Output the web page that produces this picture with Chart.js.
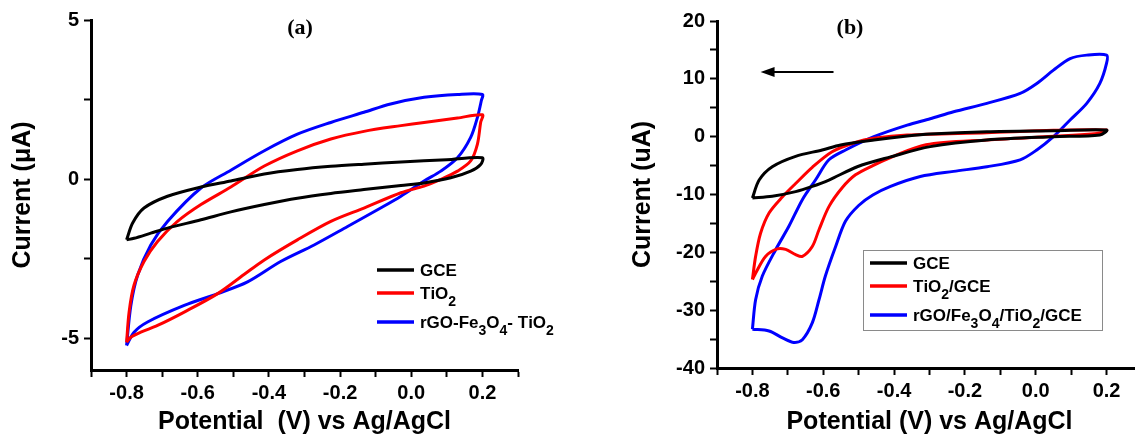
<!DOCTYPE html>
<html>
<head>
<meta charset="utf-8">
<script src="https://cdn.jsdelivr.net/npm/chart.js@4.4.0/dist/chart.umd.min.js"></script>
<style>
  html, body { margin: 0; padding: 0; background: #fff; }
  #wrap { position: relative; width: 1135px; height: 437px; overflow: hidden; }
  canvas { position: absolute; top: 0; }
  #chart-a { left: 0; }
  #chart-b { left: 620px; }
</style>
</head>
<body>
<div id="wrap">
  <canvas id="chart-a" width="560" height="437"></canvas>
  <canvas id="chart-b" width="540" height="437"></canvas>
</div>
<script>
// tick values and labels
const potentialTicks = [-0.9, -0.8, -0.7, -0.6, -0.5, -0.4, -0.3, -0.2, -0.1, 0.0, 0.1, 0.2, 0.3];
const potentialLabels = ['-0.8', '-0.6', '-0.4', '-0.2', '0.0', '0.2'];
const currentTicksA = [-5, -2.5, 0, 2.5, 5];
const currentLabelsA = ['-5', '0', '5'];
const currentTicksB = [-40, -35, -30, -25, -20, -15, -10, -5, 0, 5, 10, 15, 20];
const currentLabelsB = ['-40', '-30', '-20', '-10', '0', '10', '20'];

// panel (a): potential (V) and current (uA), loop starts at -0.8 V
const gceA_V = [-0.8, -0.783, -0.751, -0.685, -0.591, -0.507, -0.413, -0.32, -0.226, -0.133, -0.029, 0.1, 0.2, 0.195, 0.167, 0.111, 0.036, -0.029, -0.133, -0.226, -0.32, -0.413, -0.507, -0.591, -0.685, -0.732, -0.779, -0.8];
const gceA_I = [-1.91, -1.38, -0.91, -0.54, -0.25, -0.06, 0.16, 0.30, 0.40, 0.47, 0.54, 0.61, 0.67, 0.46, 0.25, 0.04, -0.12, -0.20, -0.33, -0.45, -0.60, -0.80, -1.03, -1.28, -1.54, -1.70, -1.86, -1.91];

const tio2A_V = [-0.8, -0.793, -0.779, -0.751, -0.713, -0.657, -0.591, -0.507, -0.413, -0.32, -0.226, -0.133, -0.029, 0.036, 0.13, 0.2, 0.195, 0.186, 0.167, 0.13, 0.083, 0.036, -0.029, -0.133, -0.226, -0.32, -0.413, -0.47, -0.544, -0.638, -0.713, -0.76, -0.788, -0.8];
const tio2A_I = [-5.13, -4.18, -3.33, -2.59, -1.96, -1.33, -0.80, -0.25, 0.41, 0.89, 1.26, 1.50, 1.68, 1.78, 1.92, 2.02, 1.78, 1.10, 0.57, 0.25, -0.01, -0.22, -0.43, -0.91, -1.33, -1.91, -2.54, -3.00, -3.60, -4.18, -4.60, -4.81, -4.97, -5.13];

const compA_V = [-0.8, -0.788, -0.769, -0.732, -0.685, -0.591, -0.507, -0.413, -0.32, -0.226, -0.133, -0.058, 0.036, 0.13, 0.2, 0.197, 0.186, 0.167, 0.13, 0.083, 0.036, -0.029, -0.086, -0.179, -0.273, -0.367, -0.46, -0.544, -0.638, -0.741, -0.779, -0.8];
const compA_I = [-5.23, -3.97, -3.02, -2.07, -1.33, -0.28, 0.28, 0.89, 1.41, 1.78, 2.10, 2.36, 2.57, 2.66, 2.66, 2.47, 1.94, 1.31, 0.67, 0.25, -0.06, -0.54, -0.91, -1.49, -2.07, -2.59, -3.23, -3.60, -3.97, -4.49, -4.81, -5.23];

// panel (b)
const gceB_V = [-0.8, -0.781, -0.744, -0.678, -0.603, -0.551, -0.457, -0.363, -0.298, -0.138, 0.049, 0.2, 0.181, 0.049, -0.138, -0.298, -0.41, -0.504, -0.584, -0.631, -0.678, -0.744, -0.8];
const gceB_I = [-10.6, -7.5, -5.2, -3.4, -2.3, -1.43, -0.57, 0.12, 0.47, 0.86, 1.03, 1.16, 0.29, 0.0, -0.57, -1.72, -3.5, -5.2, -7.5, -8.6, -9.5, -10.3, -10.6];

const tio2B_V = [-0.8, -0.791, -0.777, -0.753, -0.715, -0.678, -0.631, -0.575, -0.51, -0.457, -0.363, -0.138, 0.05, 0.2, 0.181, -0.138, -0.31, -0.41, -0.46, -0.509, -0.546, -0.584, -0.612, -0.631, -0.659, -0.678, -0.706, -0.73, -0.763, -0.791, -0.8];
const tio2B_I = [-24.7, -20.7, -16.7, -13.2, -10.4, -8.1, -5.3, -2.6, -1.0, -0.28, 0.29, 0.69, 1.1, 1.16, 0.59, -0.57, -1.4, -3.6, -5.0, -6.6, -8.8, -12.1, -16.1, -19.0, -20.7, -20.4, -19.5, -19.4, -20.7, -23.6, -24.7];

const compB_V = [-0.8, -0.791, -0.772, -0.734, -0.697, -0.659, -0.622, -0.584, -0.537, -0.457, -0.363, -0.298, -0.232, -0.138, -0.044, 0.003, 0.05, 0.097, 0.144, 0.2, 0.2, 0.181, 0.144, 0.097, 0.05, 0.003, -0.044, -0.138, -0.232, -0.326, -0.41, -0.46, -0.5, -0.537, -0.565, -0.594, -0.612, -0.631, -0.659, -0.683, -0.715, -0.753, -0.8];
const compB_I = [-33.3, -28.2, -24.1, -19.5, -15.5, -10.9, -7.5, -4.0, -2.3, 0.0, 2.0, 3.1, 4.31, 5.76, 7.48, 9.2, 11.5, 13.5, 14.1, 14.1, 12.7, 9.2, 5.76, 2.88, 0.0, -2.3, -4.0, -5.2, -6.0, -6.9, -8.6, -10.1, -11.9, -14.6, -19.0, -24.1, -28.2, -32.2, -35.1, -35.6, -34.8, -33.6, -33.3];

const labelsA = ['GCE', 'TiO₂', 'rGO-Fe₃O₄- TiO₂'];
const labelsB = ['GCE', 'TiO₂/GCE', 'rGO/Fe₃O₄/TiO₂/GCE'];
const colors = ['#000000', '#ff0000', '#0000ff'];

function toPoints(vs, is) {
    return vs.map((v, k) => ({ x: v, y: is[k] }));
}

const SANS = '"Liberation Sans", Arial, sans-serif';
const SUBS = { '₀': '0', '₁': '1', '₂': '2', '₃': '3', '₄': '4', '₅': '5', '₆': '6', '₇': '7', '₈': '8', '₉': '9' };

// draw text where unicode subscript digits become small lowered digits
function drawRich(ctx, str, x, y, size) {
    const base = y + size * 0.36;
    ctx.textBaseline = 'alphabetic';
    ctx.textAlign = 'left';
    for (const ch of str) {
        if (SUBS[ch]) {
            ctx.font = 'bold ' + Math.round(size * 0.82) + 'px ' + SANS;
            ctx.fillText(SUBS[ch], x, base + size * 0.38);
            x += ctx.measureText(SUBS[ch]).width;
        } else {
            ctx.font = 'bold ' + size + 'px ' + SANS;
            ctx.fillText(ch, x, base);
            x += ctx.measureText(ch).width;
        }
    }
}

const decorPlugin = {
    id: 'decor',
    afterDraw(chart, args, opts) {
        const ctx = chart.ctx;
        ctx.save();
        ctx.fillStyle = '#000';
        ctx.font = 'bold 22px "Liberation Serif", "Times New Roman", serif';
        ctx.textAlign = 'center';
        ctx.textBaseline = 'middle';
        ctx.fillText(opts.panel, opts.panelX, opts.panelY);

        if (opts.box) {
            ctx.strokeStyle = '#8a8a8a';
            ctx.lineWidth = 1;
            ctx.strokeRect(opts.box[0] + 0.5, opts.box[1] + 0.5, opts.box[2], opts.box[3]);
        }
        chart.data.datasets.forEach((ds, k) => {
            const y = opts.rows[k];
            ctx.strokeStyle = ds.borderColor;
            ctx.lineWidth = 3.5;
            ctx.beginPath();
            ctx.moveTo(opts.lineX, y);
            ctx.lineTo(opts.lineX + 37, y);
            ctx.stroke();
            ctx.fillStyle = '#000';
            drawRich(ctx, ds.label, opts.lineX + 43, y, 17);
        });

        if (opts.arrow) {
            const xs = chart.scales.x, ys = chart.scales.y;
            const x0 = xs.getPixelForValue(opts.arrow[0]);
            const x1 = xs.getPixelForValue(opts.arrow[1]);
            const ya = ys.getPixelForValue(opts.arrow[2]);
            ctx.strokeStyle = '#000';
            ctx.lineWidth = 2;
            ctx.beginPath();
            ctx.moveTo(x0, ya);
            ctx.lineTo(x1 + 10, ya);
            ctx.stroke();
            ctx.fillStyle = '#000';
            ctx.beginPath();
            ctx.moveTo(x1, ya);
            ctx.lineTo(x1 + 14, ya - 5);
            ctx.lineTo(x1 + 14, ya + 5);
            ctx.closePath();
            ctx.fill();
        }
        ctx.restore();
    }
};

function axisFont(size) {
    return { family: SANS, weight: 'bold', size: size };
}

function makePanel(id, curves, labels, yMin, yMax, yTicks, yLabels, yTitle, xTitle, layout, decor) {
    const datasets = curves.map((c, k) => ({
        label: labels[k],
        data: toPoints(c[0], c[1]),
        showLine: true,
        borderColor: colors[k],
        borderWidth: 3,
        pointRadius: 0,
        tension: 0.3,
        fill: false
    }));
    return new Chart(document.getElementById(id), {
        type: 'scatter',
        data: { datasets: datasets },
        options: {
            responsive: false,
            animation: false,
            layout: { padding: layout.padding },
            plugins: { legend: { display: false }, tooltip: { enabled: false }, decor: decor },
            scales: {
                x: {
                    type: 'linear',
                    min: -0.9,
                    max: 0.3,
                    afterBuildTicks: s => { s.ticks = potentialTicks.map(v => ({ value: v })); },
                    afterFit: s => { s.height = layout.xHeight; },
                    border: { display: true, color: '#000', width: 3 },
                    grid: { drawOnChartArea: false, tickLength: 7, tickWidth: 2, tickColor: '#000' },
                    ticks: {
                        color: '#000', font: axisFont(20), padding: 4, maxRotation: 0, autoSkip: false,
                        callback: v => { const t = (Math.round(v * 10) / 10).toFixed(1); return potentialLabels.includes(t) ? t : ''; }
                    },
                    title: { display: true, text: xTitle, color: '#000', font: axisFont(25), padding: { top: 0, bottom: 0 } }
                },
                y: {
                    type: 'linear',
                    min: yMin,
                    max: yMax,
                    afterBuildTicks: s => { s.ticks = yTicks.map(v => ({ value: v })); },
                    afterFit: s => { s.width = layout.yWidth; },
                    border: { display: true, color: '#000', width: 3 },
                    grid: { drawOnChartArea: false, tickLength: 7, tickWidth: 2, tickColor: '#000' },
                    ticks: {
                        color: '#000', font: axisFont(20), padding: 5, autoSkip: false,
                        callback: v => { const t = String(v); return yLabels.includes(t) ? t : ''; }
                    },
                    title: { display: true, text: yTitle, color: '#000', font: axisFont(25), padding: { top: 4, bottom: 0 } }
                }
            }
        },
        plugins: [decorPlugin]
    });
}

makePanel('chart-a',
    [[gceA_V, gceA_I], [tio2A_V, tio2A_I], [compA_V, compA_I]],
    labelsA, -6, 5, currentTicksA, currentLabelsA,
    'Current (μA)', 'Potential  (V) vs Ag/AgCl',
    { padding: { left: 4, top: 20, right: 42, bottom: 0 }, xHeight: 67, yWidth: 87 },
    { panel: '(a)', panelX: 300, panelY: 28, rows: [270, 293, 322], lineX: 377 });

makePanel('chart-b',
    [[gceB_V, gceB_I], [tio2B_V, tio2B_I], [compB_V, compB_I]],
    labelsB, -40, 20, currentTicksB, currentLabelsB,
    'Current (uA)', 'Potential (V) vs Ag/AgCl',
    { padding: { left: 4, top: 21, right: 18, bottom: 0 }, xHeight: 69, yWidth: 93 },
    { panel: '(b)', panelX: 230, panelY: 28, rows: [263, 286, 315], lineX: 250,
      box: [243, 250, 239, 80], arrow: [-0.571, -0.777, 11.2] });
</script>
</body>
</html>
